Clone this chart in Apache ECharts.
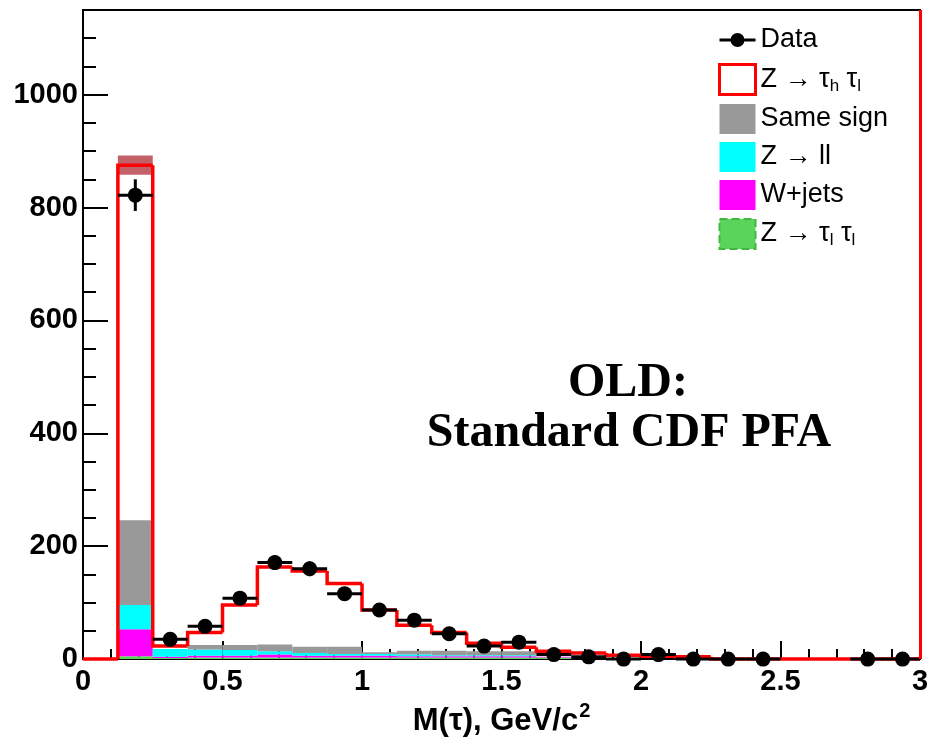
<!DOCTYPE html>
<html><head><meta charset="utf-8">
<script src="https://cdn.jsdelivr.net/npm/echarts@6/dist/echarts.min.js"></script>
<style>html,body{margin:0;padding:0;background:#fff}#c{width:936px;height:742px}</style>
</head><body><div id="c"></div>
<script>
// ---- data (bin width 0.125 GeV/c^2, 24 bins from 0 to 3) ----
const binWidth = 0.125;
const binCenters = [0.0625,0.1875,0.3125,0.4375,0.5625,0.6875,0.8125,0.9375,1.0625,1.1875,1.3125,1.4375,
                    1.5625,1.6875,1.8125,1.9375,2.0625,2.1875,2.3125,2.4375,2.5625,2.6875,2.8125,2.9375];
const dataCounts = [null,822,35,58,108,171,160,116,87,69,45,23,30,8,4,0,8,0,0,0,null,null,0,0];
const dataErrors = [null,28,6,8,10,13,13,11,9,8,7,5,5,3,2,0,3,0,0,0,null,null,0,0];
// stacked MC components (bottom to top)
const zTauLTauL = [0,5,2,3,3,3,3,3,3,3,3,3,3,3,0,0,0,0,0,0,0,0,0,0];
const wJets     = [0,48,2,3,3,5,3,3,3,2,2,2,2,1,0,0,0,0,0,0,0,0,0,0];
const zLL       = [0,43,14,11,10,6,5,3,3,3,2,2,2,0,0,0,0,0,0,0,0,0,0,0];
const sameSign  = [0,150,0,8,9,12,11,13,3,7,8,7,7,0,0,0,0,0,0,0,0,0,0,0];
const zTauHTauL = [0,629,5,22,71,137,134,112,75,45,32,14,7,10,11,7,5,4,0,0,0,0,0,0];
const stackErr  = [0,17,0,0,0,0,0,0,0,0,0,0,0,0,0,0,0,0,0,0,0,0,0,0];
const xTicks = [0,0.5,1,1.5,2,2.5,3];
const yTicks = [0,200,400,600,800,1000];

// ---- build stacked layers ----
const layerArrays = [zTauLTauL, wJets, zLL, sameSign];
let base = binCenters.map(() => 0);
const layerData = layerArrays.map(arr => {
  const d = binCenters.map((c, i) => [c, base[i], base[i] + arr[i]]).filter(p => p[2] > p[1]);
  base = base.map((b, i) => b + arr[i]);
  return d;
});
const stackTop = base.map((b, i) => b + zTauHTauL[i]);
const stepData = binCenters.map((c, i) => [c, stackTop[i], i > 0 ? stackTop[i - 1] : 0]);
const bandData = binCenters.map((c, i) => [c, stackTop[i] - stackErr[i], stackTop[i] + stackErr[i]]).filter((p, i) => stackErr[i] > 0);
const pointData = binCenters.map((c, i) => [c, dataCounts[i], dataErrors[i]]).filter(p => p[1] !== null);

function rectItem(params, api) {
  const c = api.value(0), lo = api.value(1), hi = api.value(2);
  const p0 = api.coord([c - binWidth / 2, lo]);
  const p1 = api.coord([c + binWidth / 2, hi]);
  return { type: 'rect', shape: { x: p0[0], y: p1[1], width: p1[0] - p0[0], height: p0[1] - p1[1] }, style: api.style() };
}
function stepItem(params, api) {
  const c = api.value(0), v = api.value(1), pv = api.value(2);
  const a = api.coord([c - binWidth / 2, pv]);
  const b = api.coord([c - binWidth / 2, v]);
  const d = api.coord([c + binWidth / 2, v]);
  return { type: 'polyline', shape: { points: [a, b, d] }, style: { stroke: '#ff0000', lineWidth: 3.5, fill: null } };
}
function errItem(params, api) {
  const c = api.value(0), v = api.value(1), e = api.value(2);
  const l = api.coord([c - binWidth / 2, v]), r = api.coord([c + binWidth / 2, v]);
  const t = api.coord([c, v + e]), b = api.coord([c, v - e]);
  return { type: 'group', children: [
    { type: 'line', shape: { x1: l[0], y1: l[1], x2: r[0], y2: r[1] }, style: { stroke: '#000', lineWidth: 3 } },
    { type: 'line', shape: { x1: t[0], y1: t[1], x2: b[0], y2: b[1] }, style: { stroke: '#000', lineWidth: 3 } }
  ] };
}

const font = '"Liberation Sans", Arial, sans-serif';
const colors = { zll2: '#5ad45a', wj: '#ff00ff', zll: '#00ffff', ss: '#999999' };
const legendNames = {
  'Data': 'Data',
  'sig': 'Z → τ{s|h} τ{s|l}',
  'ss': 'Same sign',
  'zll': 'Z → ll',
  'wj': 'W+jets',
  'zll2': 'Z → τ{s|l} τ{s|l}'
};

const chart = echarts.init(document.getElementById('c'), null, { renderer: 'canvas' });
chart.setOption({
  animation: false,
  backgroundColor: '#fff',
  grid: { left: 83, right: 16, top: 10, bottom: 81, show: true, borderColor: '#000', borderWidth: 2 },
  xAxis: {
    type: 'value', min: xTicks[0], max: xTicks[xTicks.length - 1], interval: 0.5,
    axisLine: { lineStyle: { color: '#000', width: 2 } },
    axisTick: { inside: true, length: 18, lineStyle: { color: '#000', width: 2 } },
    minorTick: { show: true, splitNumber: 5, length: 10, lineStyle: { color: '#000', width: 2 } },
    splitLine: { show: false },
    axisLabel: { margin: 8, fontSize: 29, fontWeight: 'bold', color: '#000', fontFamily: font,
      formatter: v => xTicks.includes(v) ? String(v) : '' },
    name: '{a|M(τ), GeV/c}{b|2}', nameLocation: 'middle', nameGap: 38,
    nameTextStyle: { rich: {
      a: { fontSize: 31, fontWeight: 'bold', color: '#000', fontFamily: font, lineHeight: 36, verticalAlign: 'bottom' },
      b: { fontSize: 20, fontWeight: 'bold', color: '#000', fontFamily: font, lineHeight: 36, verticalAlign: 'top', padding: [0, 0, 14, 1] } } }
  },
  yAxis: [{
    type: 'value', min: 0, max: 1150, interval: 200,
    axisLine: { show: true, lineStyle: { color: '#000', width: 2 } },
    axisTick: { show: true, inside: true, length: 25, lineStyle: { color: '#000', width: 2 } },
    splitLine: { show: false },
    axisLabel: { margin: 5, fontSize: 29, fontWeight: 'bold', color: '#000', fontFamily: font, showMaxLabel: false,
      formatter: v => yTicks.includes(v) ? String(v) : '' }
  }, {
    type: 'value', min: 0, max: 1150, interval: 50, position: 'left',
    axisLine: { show: false },
    axisTick: { show: true, inside: true, length: 13, lineStyle: { color: '#000', width: 2 } },
    splitLine: { show: false },
    axisLabel: { show: false }
  }],
  legend: {
    orient: 'vertical', left: 718, top: 25, padding: 0, itemWidth: 36, itemHeight: 30, itemGap: 8,
    selectedMode: false,
    formatter: n => legendNames[n],
    textStyle: { fontFamily: font, fontSize: 27, color: '#000', lineHeight: 30,
      rich: { s: { fontFamily: font, fontSize: 17, color: '#000', lineHeight: 18, verticalAlign: 'bottom' } } },
    data: [
      { name: 'Data', icon: 'path://M0,14H36V17H0Z M11,15.5A7,7 0 1 1 25,15.5A7,7 0 1 1 11,15.5Z', itemStyle: { color: '#000', borderWidth: 0 } },
      { name: 'sig', icon: 'rect', itemStyle: { color: '#fff', borderColor: '#ff0000', borderWidth: 3 } },
      { name: 'ss', icon: 'rect', itemStyle: { color: colors.ss, borderWidth: 0 } },
      { name: 'zll', icon: 'rect', itemStyle: { color: colors.zll, borderWidth: 0 } },
      { name: 'wj', icon: 'rect', itemStyle: { color: colors.wj, borderWidth: 0 } },
      { name: 'zll2', icon: 'rect', itemStyle: { color: colors.zll2, borderColor: '#3fb83f', borderWidth: 2, borderType: 'dashed' } }
    ]
  },
  graphic: [
    { type: 'text', x: 628, y: 384, style: { text: 'OLD:', font: 'bold 48px "Liberation Serif", "Times New Roman", serif', fill: '#000', textAlign: 'center', textVerticalAlign: 'middle' } },
    { type: 'text', x: 629, y: 434, style: { text: 'Standard CDF PFA', font: 'bold 48px "Liberation Serif", "Times New Roman", serif', fill: '#000', textAlign: 'center', textVerticalAlign: 'middle' } }
  ],
  series: [
    { name: 'zll2', type: 'custom', renderItem: rectItem, data: layerData[0], itemStyle: { color: colors.zll2 }, z: 1 },
    { name: 'wj', type: 'custom', renderItem: rectItem, data: layerData[1], itemStyle: { color: colors.wj }, z: 1 },
    { name: 'zll', type: 'custom', renderItem: rectItem, data: layerData[2], itemStyle: { color: colors.zll }, z: 1 },
    { name: 'ss', type: 'custom', renderItem: rectItem, data: layerData[3], itemStyle: { color: colors.ss }, z: 1 },
    { name: 'band', type: 'custom', renderItem: rectItem, data: bandData, itemStyle: { color: 'rgba(170,30,40,0.7)' }, z: 2 },
    { name: 'sig', type: 'custom', renderItem: stepItem, data: stepData, itemStyle: { color: '#ff0000' }, z: 3,
      markLine: { silent: true, symbol: 'none', label: { show: false }, lineStyle: { color: '#ff0000', width: 3, type: 'solid' },
        data: [{ xAxis: xTicks[xTicks.length - 1] }] } },
    { name: 'err', type: 'custom', renderItem: errItem, data: pointData, z: 4 },
    { name: 'Data', type: 'scatter', data: pointData.map(p => [p[0], p[1]]), symbol: 'circle', symbolSize: 15,
      itemStyle: { color: '#000', opacity: 1 }, z: 5 }
  ]
});
</script>
</body></html>
